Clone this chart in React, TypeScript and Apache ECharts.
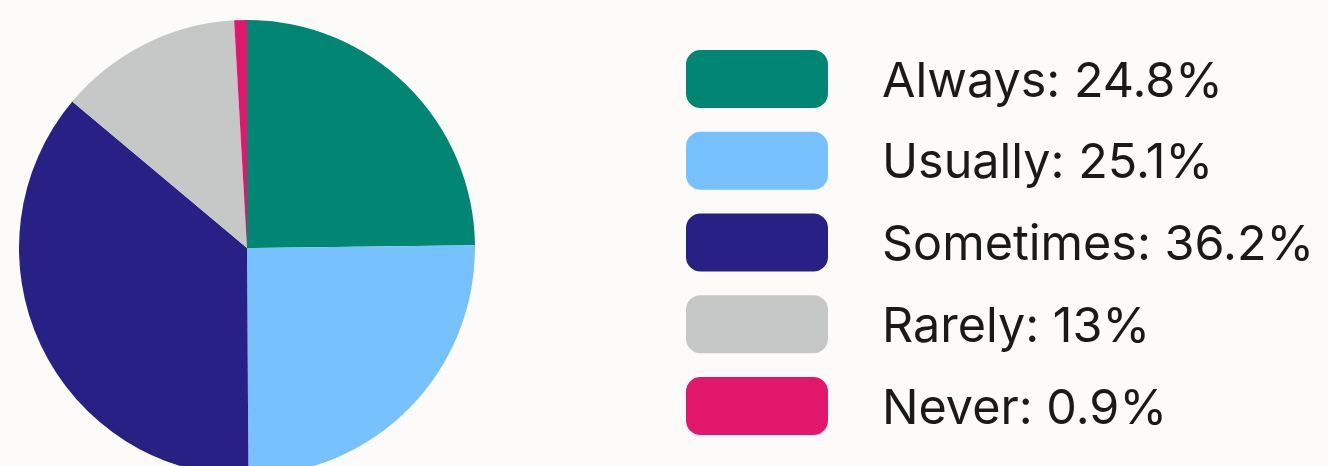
import React, { useEffect, useRef } from "react";
import * as echarts from "echarts";

const categories = ["Always", "Usually", "Sometimes", "Rarely", "Never"];
const values = [24.8, 25.1, 36.2, 13, 0.9];
const colors = ["#008673", "#78c1ff", "#282084", "#c6c7c7", "#e0176b"];

export default function App() {
  const ref = useRef<HTMLDivElement>(null);
  useEffect(() => {
    document.body.style.margin = "0";
    const chart = echarts.init(ref.current!, null, { renderer: "svg" });
    const valueMap: Record<string, number> = {};
    categories.forEach((c, i) => (valueMap[c] = values[i]));
    chart.setOption({
      animation: false,
      backgroundColor: "#fcfbfa",
      color: colors,
      legend: {
        orient: "vertical",
        left: 681,
        top: 45,
        itemWidth: 142,
        itemHeight: 58,
        itemGap: 23.75,
        icon: "roundRect",
        selectedMode: false,
        data: categories,
        formatter: (name: string) => `${name}: ${valueMap[name]}%`,
        textStyle: {
          fontFamily: "Inter",
          fontSize: 48.5,
          color: "#1a1a1a",
          padding: [0, 0, 8, 49],
        },
      },
      series: [
        {
          type: "pie",
          center: [247, 248],
          radius: 228,
          startAngle: 90,
          clockwise: true,
          label: { show: false },
          labelLine: { show: false },
          emphasis: { disabled: true },
          data: categories.map((c, i) => ({ name: c, value: values[i] })),
        },
      ],
    });
    return () => chart.dispose();
  }, []);
  return (
    <div
      ref={ref}
      style={{ position: "fixed", left: 0, top: 0, width: 1328, height: 466 }}
    />
  );
}
